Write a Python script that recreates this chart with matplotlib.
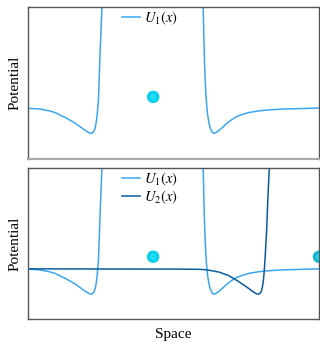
import matplotlib
matplotlib.use("Agg")
import matplotlib.pyplot as plt

plt.rcParams['font.family'] = ['Liberation Serif', 'DejaVu Serif']
plt.rcParams['mathtext.fontset'] = 'stix'

# U1(x): two walls with a well on the outer side of each
u1_x = [0.00, 0.41, 0.76, 0.95, 1.10, 1.27, 1.44, 1.62, 1.79, 1.92, 2.04, 2.10,
        2.16, 2.21, 2.25, 2.29, 2.32, 2.35, 2.38, 2.42, 2.45, 2.48, 2.52, 2.54,
        2.56,
        6.00, 6.04, 6.07, 6.11, 6.14, 6.17, 6.21, 6.25, 6.30, 6.35, 6.39, 6.45,
        6.54, 6.68, 6.83, 7.00, 7.17, 7.40, 7.63, 7.90, 8.20, 8.77, 9.40, 10.0]
u1_y = [-0.01, -0.04, -0.12, -0.19, -0.28, -0.37, -0.48, -0.60, -0.74, -0.85,
        -0.94, -0.98, -1.00, -0.99, -0.94, -0.85, -0.72, -0.52, -0.22, 0.32,
        1.24, 2.30, 3.37, 4.00, 5.00,
        5.00, 2.97, 1.62, 0.59, 0.10, -0.25, -0.55, -0.75, -0.90, -0.98, -1.00,
        -0.98, -0.91, -0.77, -0.61, -0.46, -0.34, -0.24, -0.17, -0.12, -0.08,
        -0.04, -0.02, 0.00]

# U2(x): flat, then one well and a wall on the right
u2_x = [0.00, 5.22, 5.91, 6.14, 6.30, 6.57, 6.88, 7.05, 7.22, 7.40, 7.55, 7.69,
        7.80, 7.86, 7.91, 7.96, 8.00, 8.03, 8.06, 8.09, 8.12, 8.15, 8.20, 8.25,
        8.29, 8.31]
u2_y = [0.00, -0.01, -0.02, -0.04, -0.07, -0.13, -0.26, -0.37, -0.49, -0.63,
        -0.75, -0.87, -0.96, -0.99, -1.00, -0.98, -0.93, -0.84, -0.68, -0.44,
        -0.04, 0.49, 1.55, 3.00, 4.00, 5.00]

# particles
top_px = [4.30]
top_py = [0.44]
bot_px = [4.30, 10.0]
bot_py = [0.48, 0.48]
bot_col = ['#00cfee', '#10b4cc']

c1 = '#3aa6f2'
c2 = '#0b5c9c'


def ball(ax, xs, ys, cols):
    # radial shading: big disc, lighter smaller discs on top
    for x, y, c in zip(xs, ys, cols):
        ax.scatter([x], [y], s=80, color=c, edgecolors='none', zorder=5)
        ax.scatter([x], [y], s=50, color=c, alpha=0.6, edgecolors='none', zorder=6)
        ax.scatter([x], [y], s=24, color='#40e6ff', alpha=0.5, edgecolors='none', zorder=7)


fig = plt.figure(figsize=(3.2, 3.42), dpi=100)
ax1 = fig.add_axes([0.0875, 0.5365, 0.9095, 0.443])
ax2 = fig.add_axes([0.0875, 0.0664, 0.9095, 0.4424])

for ax in (ax1, ax2):
    ax.set_xlim(0, 10)
    ax.set_ylim(-2, 4)
    ax.set_xticks([])
    ax.set_yticks([])
    for s in ax.spines.values():
        s.set_color('#555555')
        s.set_linewidth(1.0)
    ax.set_ylabel('Potential', fontsize=11, labelpad=5)

ax1.spines['bottom'].set_color('#a8a8a8')
ax1.spines['bottom'].set_linewidth(1.6)

leg_kw = dict(loc='upper left', bbox_to_anchor=(0.315, 1.0), frameon=False,
              fontsize=10.5, handlelength=1.25, handletextpad=0.3,
              borderaxespad=0.0, borderpad=0.15, labelspacing=0.05)

ax1.plot(u1_x, u1_y, color=c1, lw=1.1, label='$U_1(x)$')
ball(ax1, top_px, top_py, ['#00cfee'])
ax1.legend(**leg_kw)

ax2.plot(u1_x, u1_y, color=c1, lw=1.1, label='$U_1(x)$')
ax2.plot(u2_x, u2_y, color=c2, lw=1.1, label='$U_2(x)$')
ball(ax2, bot_px, bot_py, bot_col)
ax2.legend(**leg_kw)
ax2.set_xlabel('Space', fontsize=11, labelpad=6)

fig.savefig('out.png', dpi=100)
